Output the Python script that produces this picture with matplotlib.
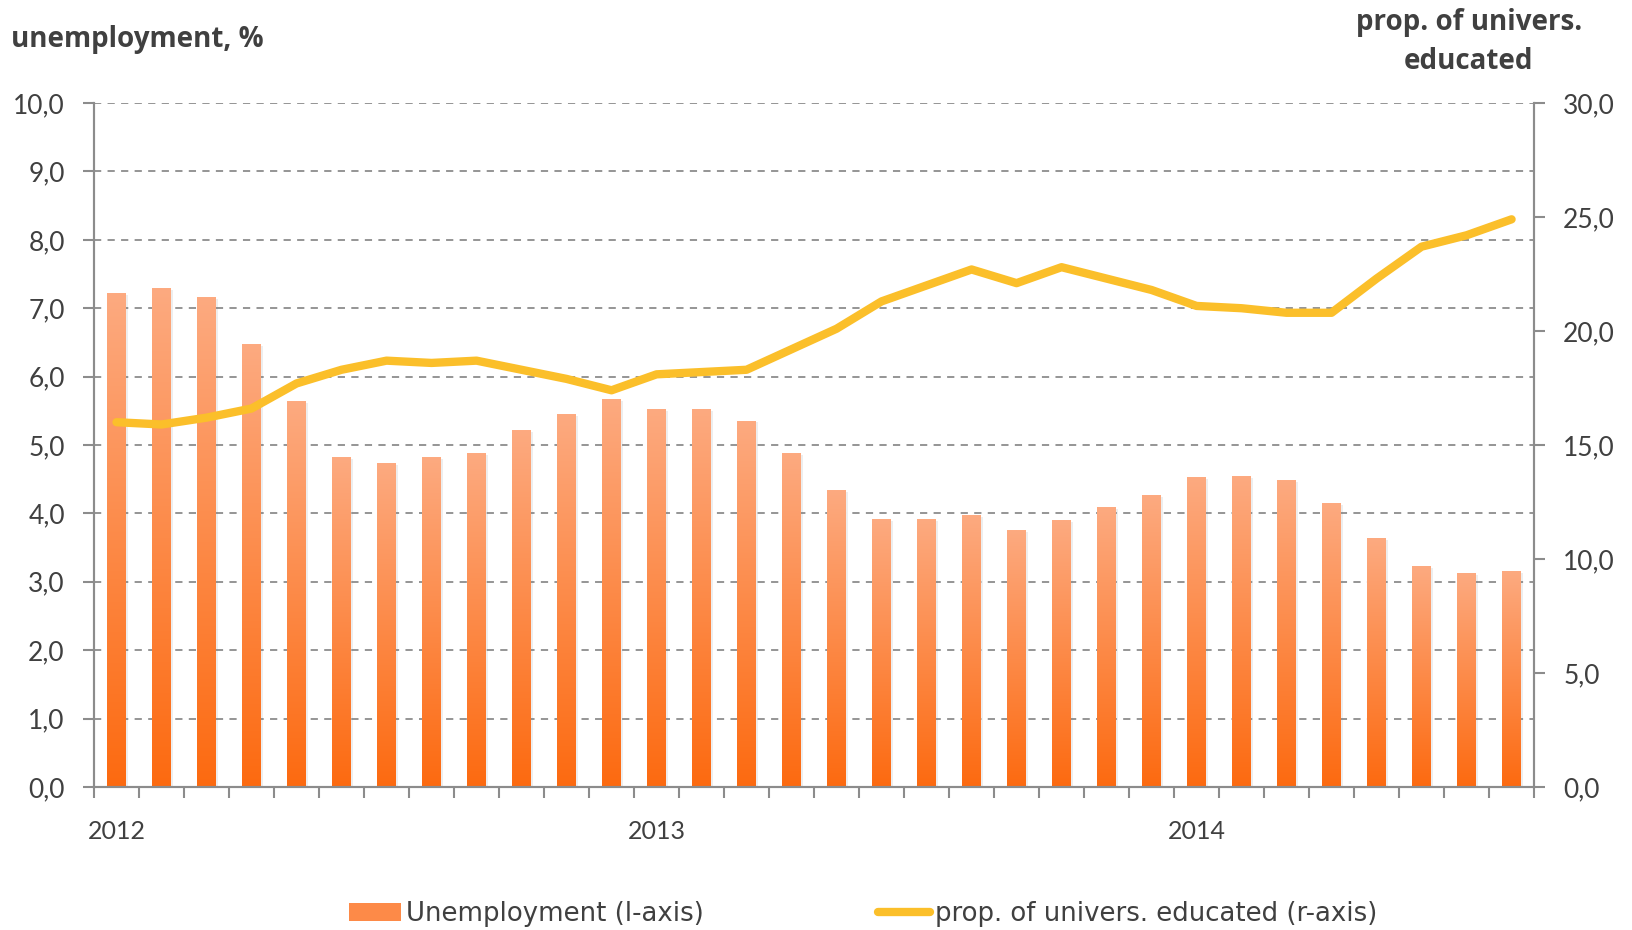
#!/usr/bin/env python3
"""Unemployment of university educated vs their share, 2012-2014 (monthly)."""

import numpy as np
import matplotlib
matplotlib.use('Agg')
import matplotlib.pyplot as plt
import matplotlib.patheffects as pe
from matplotlib.colors import LinearSegmentedColormap
from matplotlib.patches import Patch
from matplotlib.lines import Line2D

# Monthly data, Jan 2012 - Aug 2014
unemployment = [7.22, 7.29, 7.16, 6.47, 5.64, 4.82, 4.73, 4.82, 4.88, 5.21,
                5.44, 5.67, 5.52, 5.52, 5.35, 4.88, 4.33, 3.91, 3.91, 3.97,
                3.75, 3.89, 4.09, 4.26, 4.53, 4.54, 4.48, 4.15, 3.63, 3.22,
                3.12, 3.15]
univ_share = [16.0, 15.9, 16.2, 16.6, 17.7, 18.3, 18.7, 18.6, 18.7, 18.3,
              17.9, 17.4, 18.1, 18.2, 18.3, 19.2, 20.1, 21.3, 22.0, 22.7,
              22.1, 22.8, 22.3, 21.8, 21.1, 21.0, 20.8, 20.8, 22.3, 23.7,
              24.2, 24.9]
year_labels = ['2012', '2013', '2014']
year_positions = [0, 12, 24]

BAR_TOP = '#FDAA80'
BAR_BOTTOM = '#FC6A10'
LINE_COLOR = '#FBBF2A'
GRID_COLOR = '#8C8C8C'
TEXT_COLOR = '#404040'

plt.rcParams['font.family'] = ['Lato', 'DejaVu Sans']

fig = plt.figure(figsize=(16.32, 9.30), dpi=100)
ax = fig.add_axes([0.0576, 0.1538, 0.8824, 0.7354])
ax2 = ax.twinx()

n = len(unemployment)
x = np.arange(n)
bar_w = 0.42
cmap = LinearSegmentedColormap.from_list('bar', [BAR_BOTTOM, BAR_TOP])
grad = np.linspace(0, 1, 256).reshape(-1, 1)

bars = ax.bar(x, unemployment, width=bar_w, color='none', zorder=2)
for rect, val in zip(bars, unemployment):
    x0 = rect.get_x()
    # soft shadow behind each bar
    sh = ax.bar(x0 + bar_w / 2, val, width=bar_w, color='white', zorder=1.9)
    sh[0].set_path_effects([pe.SimplePatchShadow(offset=(1.5, -1), alpha=0.12,
                                                  shadow_rgbFace='#777777')])
    ax.imshow(grad, cmap=cmap, origin='lower', aspect='auto',
              extent=[x0, x0 + bar_w, 0, val], zorder=2.1)

ax.set_xlim(-0.5, n - 0.5)
ax.set_ylim(0, 10)
ax.set_yticks(np.arange(0, 11, 1))
ax.set_yticklabels([f'{v:.1f}'.replace('.', ',') for v in range(11)])
ax.yaxis.grid(True, linestyle=(0, (4, 3.5)), color=GRID_COLOR, linewidth=1.3)
ax.set_axisbelow(True)

# category boundary ticks, year labels as minor ticks
ax.set_xticks(np.arange(-0.5, n, 1.0))
ax.set_xticklabels([])
ax.set_xticks(year_positions, minor=True)
ax.set_xticklabels(year_labels, minor=True)
ax.tick_params(axis='x', which='major', length=8, width=1.5, color=GRID_COLOR)
ax.tick_params(axis='x', which='minor', length=0, pad=24, labelsize=18,
               labelcolor=TEXT_COLOR)
ax.tick_params(axis='y', length=8, width=1.5, color=GRID_COLOR, labelsize=19,
               labelcolor=TEXT_COLOR, pad=13)

ax2.plot(x, univ_share, color=LINE_COLOR, linewidth=6, solid_capstyle='round',
         solid_joinstyle='round', zorder=5)
ax2.set_ylim(0, 30)
ax2.set_yticks(np.arange(0, 31, 5))
ax2.set_yticklabels([f'{v:.1f}'.replace('.', ',') for v in range(0, 31, 5)])
ax2.tick_params(axis='y', length=8, width=1.5, color=GRID_COLOR, labelsize=19,
                labelcolor=TEXT_COLOR, pad=13)

for a in (ax, ax2):
    a.spines['top'].set_visible(False)
    for s in ('left', 'right', 'bottom'):
        a.spines[s].set_color(GRID_COLOR)
        a.spines[s].set_linewidth(1.5)

ax.set_zorder(ax2.get_zorder() - 1)
ax.patch.set_visible(True)
ax2.patch.set_visible(False)

fig.text(0.007, 0.957, 'unemployment, %', fontsize=20, fontweight='bold',
         color=TEXT_COLOR, ha='left', va='center', family=['Open Sans', 'DejaVu Sans'])
fig.text(0.9, 0.955, 'prop. of univers.\neducated', fontsize=20,
         fontweight='bold', color=TEXT_COLOR, ha='center', va='center',
         linespacing=1.45, family=['Open Sans', 'DejaVu Sans'])

handles = [Patch(facecolor='#FD8A48', edgecolor='none'),
           Line2D([0], [0], color=LINE_COLOR, linewidth=6, solid_capstyle='round')]
fig.legend(handles, ['Unemployment (l-axis)', 'prop. of univers. educated (r-axis)'],
           loc='center', bbox_to_anchor=(0.529, 0.017), ncol=2, frameon=False,
           labelcolor=TEXT_COLOR, handlelength=2.0, handletextpad=0.2,
           columnspacing=6.7,
           prop={'family': ['Liberation Sans Narrow', 'DejaVu Sans Condensed', 'DejaVu Sans'],
                 'size': 18.7})

fig.savefig('out.png', dpi=100)
